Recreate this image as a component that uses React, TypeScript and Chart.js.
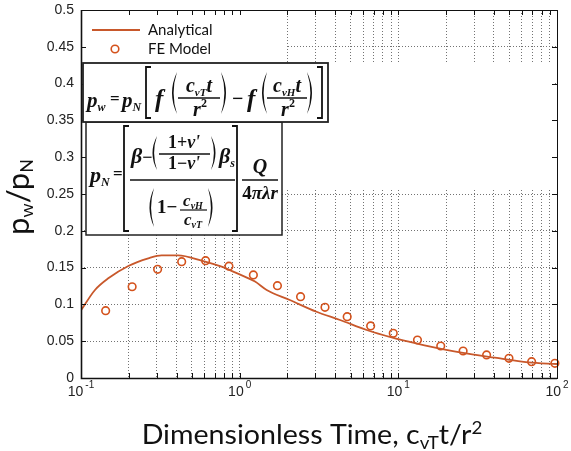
import { useEffect, useRef } from "react";
import { Chart, registerables } from "chart.js";

Chart.register(...registerables);

// Analytical solution: dimensionless time vs. pressure ratio
const analyticTime = [0.1, 0.1225, 0.1486, 0.1987, 0.2655, 0.322, 0.41, 0.576, 0.77, 0.934, 1.25, 1.48, 2.07, 3.05, 4.29, 6.31, 9.3, 11.8, 15.4, 25, 40.6, 65.9, 100];
const analyticRatio = [0.092, 0.1196, 0.1354, 0.1522, 0.1626, 0.1667, 0.1667, 0.1594, 0.1512, 0.1435, 0.131, 0.1196, 0.106, 0.09, 0.0788, 0.0652, 0.0545, 0.049, 0.0433, 0.0344, 0.0276, 0.0213, 0.019];

// Finite element results
const feTime = [0.143, 0.21, 0.304, 0.431, 0.61, 0.856, 1.22, 1.73, 2.42, 3.45, 4.76, 6.69, 9.29, 13.2, 18.5, 25.6, 36, 49.8, 69.2, 97];
const feRatio = [0.0915, 0.124, 0.1476, 0.158, 0.1594, 0.152, 0.14, 0.1254, 0.1105, 0.096, 0.0833, 0.0707, 0.0607, 0.0516, 0.0435, 0.0367, 0.0313, 0.0268, 0.0222, 0.02];

const seriesNames = ["Analytical", "FE Model"];

// Axis ticks
const decades = [0.1, 1, 10, 100];
const decadeExponents = ["-1", "0", "1", "2"];
const minorSteps = [2, 3, 4, 5, 6, 7, 8, 9];
const yMin = 0;
const yMax = 0.5;
const yStep = 0.05;

const LINE_COLOR = "#c8582b";
const MARK_COLOR = "#d4521c";
const SANS = 'Lato, "Open Sans", sans-serif';
const SERIF = '"Liberation Serif", "DejaVu Serif", serif';
const TICK_FONT = '"Liberation Sans", Arial, sans-serif';
const GRID_COLOR = "#737373";

const gridTimes: number[] = [];
decades.forEach((d, i) => {
  gridTimes.push(d);
  if (i < decades.length - 1) minorSteps.forEach((m) => gridTimes.push(+(m * d).toPrecision(3)));
});

type Run = { t: string; size: number; dy?: number; italic?: boolean; font?: string; bold?: boolean };

function runFont(r: Run) {
  const fam = r.font || SERIF;
  const it = r.italic === false ? "" : "italic ";
  const b = r.bold === false ? "" : "bold ";
  return `${it}${b}${r.size}px ${fam}`;
}

function drawRuns(ctx: CanvasRenderingContext2D, runs: Run[], x: number, y: number, align: "left" | "center" = "left") {
  let total = 0;
  for (const r of runs) {
    ctx.font = runFont(r);
    total += ctx.measureText(r.t).width;
  }
  let cx = align === "center" ? x - total / 2 : x;
  ctx.textAlign = "left";
  ctx.textBaseline = "alphabetic";
  for (const r of runs) {
    ctx.font = runFont(r);
    ctx.fillText(r.t, cx, y + (r.dy || 0));
    cx += ctx.measureText(r.t).width;
  }
  return total;
}

function hline(ctx: CanvasRenderingContext2D, x1: number, x2: number, y: number, w = 1.4) {
  ctx.beginPath();
  ctx.lineWidth = w;
  ctx.moveTo(x1, y);
  ctx.lineTo(x2, y);
  ctx.stroke();
}

// square bracket; dir 1 = "[", -1 = "]"
function bracket(ctx: CanvasRenderingContext2D, x: number, y1: number, y2: number, dir: number) {
  ctx.beginPath();
  ctx.lineWidth = 1.8;
  ctx.moveTo(x + 5 * dir, y1);
  ctx.lineTo(x, y1);
  ctx.lineTo(x, y2);
  ctx.lineTo(x + 5 * dir, y2);
  ctx.stroke();
}

// parenthesis spanning x0..x1; dir 1 = "(", -1 = ")"
function paren(ctx: CanvasRenderingContext2D, x0: number, x1: number, y1: number, y2: number, dir: number) {
  const tip = dir === 1 ? x1 : x0;
  const belly = dir === 1 ? x0 : x1;
  const ym = (y1 + y2) / 2;
  ctx.beginPath();
  ctx.moveTo(tip, y1);
  ctx.quadraticCurveTo(belly - 3 * dir, ym, tip, y2);
  ctx.quadraticCurveTo(belly + 0.2 * dir, ym, tip, y1);
  ctx.fill();
}

const frame = {
  id: "frame",
  beforeDatasetsDraw(chart: any) {
    const { ctx, chartArea: a } = chart;
    ctx.save();
    ctx.fillStyle = "#ffffff";
    // blank panel behind legend and formulas
    ctx.fillRect(a.left + 1, a.top + 1, 204, 52);
    ctx.fillRect(a.left + 1, a.top + 52, a.right - a.left - 5, 128);
    ctx.restore();
  },
  afterDraw(chart: any) {
    const { ctx, chartArea: a, scales } = chart;
    const xs = scales.x;
    const ys = scales.y;
    ctx.save();

    // axes box
    ctx.strokeStyle = "#111";
    ctx.lineWidth = 1;
    ctx.strokeRect(a.left + 0.5, a.top + 0.5, a.right - a.left, a.bottom - a.top);
    ctx.lineWidth = 1.6;
    ctx.beginPath();
    ctx.moveTo(a.left + 0.5, a.top);
    ctx.lineTo(a.left + 0.5, a.bottom + 0.5);
    ctx.lineTo(a.right, a.bottom + 0.5);
    ctx.stroke();

    // inward ticks
    ctx.lineWidth = 1;
    ctx.beginPath();
    for (const v of gridTimes) {
      const px = Math.round(xs.getPixelForValue(v)) + 0.5;
      ctx.moveTo(px, a.bottom);
      ctx.lineTo(px, a.bottom - 5);
      ctx.moveTo(px, a.top);
      ctx.lineTo(px, a.top + 5);
    }
    for (let v = yMin; v <= yMax + 1e-9; v += yStep) {
      const py = Math.round(ys.getPixelForValue(v)) + 0.5;
      ctx.moveTo(a.left, py);
      ctx.lineTo(a.left + 5, py);
      ctx.moveTo(a.right, py);
      ctx.lineTo(a.right - 5, py);
    }
    ctx.stroke();

    // decade labels
    ctx.fillStyle = "#222";
    decades.forEach((d, i) => {
      const px = xs.getPixelForValue(d);
      ctx.font = `14px ${TICK_FONT}`;
      const w10 = ctx.measureText("10").width;
      ctx.font = `10px ${TICK_FONT}`;
      const we = ctx.measureText(decadeExponents[i]).width;
      const start = px - (w10 + 2 + we) / 2;
      ctx.textAlign = "left";
      ctx.textBaseline = "alphabetic";
      ctx.font = `14px ${TICK_FONT}`;
      ctx.fillText("10", start, a.bottom + 18);
      ctx.font = `10px ${TICK_FONT}`;
      ctx.fillText(decadeExponents[i], start + w10 + 2, a.bottom + 10);
    });

    // axis titles
    ctx.fillStyle = "#111";
    ctx.save();
    ctx.translate(312, a.bottom + 66);
    ctx.scale(1.1, 1);
    drawRuns(
      ctx,
      [
        { t: "Dimensionless Time, c", size: 26, font: SANS, italic: false, bold: false },
        { t: "vT", size: 17, dy: 5, font: SANS, italic: false, bold: false },
        { t: "t/r", size: 26, font: SANS, italic: false, bold: false },
        { t: "2", size: 17, dy: -10, font: SANS, italic: false, bold: false },
      ],
      0,
      0,
      "center"
    );
    ctx.restore();
    ctx.save();
    ctx.translate(29, (a.top + a.bottom) / 2 + 3);
    ctx.rotate(-Math.PI / 2);
    drawRuns(
      ctx,
      [
        { t: "p", size: 31, font: SANS, italic: false, bold: false },
        { t: "w", size: 18, dy: 4, font: SANS, italic: false, bold: false },
        { t: "/p", size: 31, font: SANS, italic: false, bold: false },
        { t: "N", size: 18, dy: 4, font: SANS, italic: false, bold: false },
      ],
      0,
      0,
      "center"
    );
    ctx.restore();

    // legend
    const lx = a.left + 11;
    ctx.strokeStyle = LINE_COLOR;
    hline(ctx, lx, lx + 48, a.top + 20, 2);
    ctx.strokeStyle = MARK_COLOR;
    ctx.lineWidth = 1.6;
    ctx.beginPath();
    ctx.arc(lx + 23, a.top + 39, 3.8, 0, Math.PI * 2);
    ctx.stroke();
    ctx.fillStyle = "#111";
    ctx.font = `15px ${SANS}`;
    ctx.textAlign = "left";
    ctx.textBaseline = "middle";
    ctx.fillText(seriesNames[0], lx + 56, a.top + 20);
    ctx.fillText(seriesNames[1], lx + 56, a.top + 39);

    // formula for p_N
    const ox2 = a.left + 5;
    const oy2 = a.top + 112;
    ctx.fillStyle = "#fff";
    ctx.fillRect(ox2, oy2, 196, 113);
    ctx.strokeStyle = "#222";
    ctx.lineWidth = 1.5;
    ctx.strokeRect(ox2, oy2, 196, 113);
    ctx.fillStyle = "#111";
    ctx.strokeStyle = "#111";
    drawRuns(ctx, [{ t: "p", size: 22 }, { t: "N", size: 12, dy: 4 }], ox2 + 4, oy2 + 60);
    drawRuns(ctx, [{ t: "=", size: 17, italic: false }], ox2 + 27, oy2 + 57);
    bracket(ctx, ox2 + 38, oy2 + 4, oy2 + 109, 1);
    drawRuns(ctx, [{ t: "β", size: 22 }, { t: "−", size: 18, italic: false }], ox2 + 45, oy2 + 41);
    paren(ctx, ox2 + 65, ox2 + 71, oy2 + 14, oy2 + 48, 1);
    drawRuns(ctx, [{ t: "1+", size: 18, italic: false }, { t: "ν'", size: 18 }], ox2 + 98, oy2 + 26, "center");
    hline(ctx, ox2 + 73, ox2 + 124, oy2 + 32);
    drawRuns(ctx, [{ t: "1−", size: 18, italic: false }, { t: "ν'", size: 18 }], ox2 + 98, oy2 + 47, "center");
    paren(ctx, ox2 + 125, ox2 + 131, oy2 + 14, oy2 + 48, -1);
    drawRuns(ctx, [{ t: "β", size: 22 }, { t: "s", size: 12, dy: 4 }], ox2 + 133, oy2 + 41);
    hline(ctx, ox2 + 44, ox2 + 149, oy2 + 58, 1.6);
    paren(ctx, ox2 + 62, ox2 + 68, oy2 + 66, oy2 + 105, 1);
    drawRuns(ctx, [{ t: "1−", size: 19, italic: false }], ox2 + 71, oy2 + 91);
    drawRuns(ctx, [{ t: "c", size: 17 }, { t: "vH", size: 10, dy: 3 }], ox2 + 107, oy2 + 84, "center");
    hline(ctx, ox2 + 94, ox2 + 121, oy2 + 88, 1.2);
    drawRuns(ctx, [{ t: "c", size: 17 }, { t: "vT", size: 10, dy: 3 }], ox2 + 107, oy2 + 103, "center");
    paren(ctx, ox2 + 122, ox2 + 128, oy2 + 66, oy2 + 105, -1);
    bracket(ctx, ox2 + 151, oy2 + 4, oy2 + 109, -1);
    drawRuns(ctx, [{ t: "Q", size: 20 }], ox2 + 174, oy2 + 51, "center");
    hline(ctx, ox2 + 156, ox2 + 192, oy2 + 58, 1.6);
    drawRuns(ctx, [{ t: "4", size: 19, italic: false }, { t: "πλr", size: 19 }], ox2 + 174, oy2 + 77, "center");

    // formula for p_w
    const ox = a.left + 2;
    const oy = a.top + 53;
    ctx.fillStyle = "#fff";
    ctx.fillRect(ox, oy, 245, 59);
    ctx.strokeStyle = "#222";
    ctx.lineWidth = 1.8;
    ctx.strokeRect(ox, oy, 245, 59);
    ctx.fillStyle = "#111";
    ctx.strokeStyle = "#111";
    drawRuns(ctx, [{ t: "p", size: 21 }, { t: "w", size: 12, dy: 4 }], ox + 4, oy + 44);
    drawRuns(ctx, [{ t: "=", size: 17, italic: false }], ox + 27, oy + 41);
    drawRuns(ctx, [{ t: "p", size: 21 }, { t: "N", size: 12, dy: 4 }], ox + 39, oy + 44);
    bracket(ctx, ox + 63, oy + 4, oy + 55, 1);
    drawRuns(ctx, [{ t: "f", size: 25 }], ox + 72, oy + 44);
    paren(ctx, ox + 87, ox + 94, oy + 9, oy + 51, 1);
    drawRuns(ctx, [{ t: "c", size: 20 }, { t: "vT", size: 11, dy: 4 }, { t: "t", size: 20 }], ox + 116, oy + 29, "center");
    hline(ctx, ox + 95, ox + 137, oy + 35);
    drawRuns(ctx, [{ t: "r", size: 20 }, { t: "2", size: 12, dy: -9, italic: false }], ox + 117, oy + 53, "center");
    paren(ctx, ox + 138, ox + 145, oy + 9, oy + 51, -1);
    drawRuns(ctx, [{ t: "−", size: 20, italic: false }], ox + 149, oy + 42);
    drawRuns(ctx, [{ t: "f", size: 25 }], ox + 164, oy + 44);
    paren(ctx, ox + 177, ox + 184, oy + 9, oy + 51, 1);
    drawRuns(ctx, [{ t: "c", size: 20 }, { t: "vH", size: 11, dy: 4 }, { t: "t", size: 20 }], ox + 204, oy + 29, "center");
    hline(ctx, ox + 184, ox + 224, oy + 35);
    drawRuns(ctx, [{ t: "r", size: 20 }, { t: "2", size: 12, dy: -9, italic: false }], ox + 205, oy + 53, "center");
    paren(ctx, ox + 224, ox + 231, oy + 9, oy + 51, -1);
    bracket(ctx, ox + 239, oy + 4, oy + 55, -1);

    ctx.restore();
  },
};

export default function App() {
  const ref = useRef<HTMLCanvasElement | null>(null);

  useEffect(() => {
    if (!ref.current) return;
    const chart = new Chart(ref.current, {
      type: "line",
      data: {
        datasets: [
          {
            label: seriesNames[0],
            data: analyticTime.map((t, i) => ({ x: t, y: analyticRatio[i] })),
            borderColor: LINE_COLOR,
            borderWidth: 1.8,
            pointRadius: 0,
            cubicInterpolationMode: "monotone",
            fill: false,
          },
          {
            label: seriesNames[1],
            data: feTime.map((t, i) => ({ x: t, y: feRatio[i] })),
            showLine: false,
            pointStyle: "circle",
            pointRadius: 3.8,
            pointBorderWidth: 1.6,
            pointBorderColor: MARK_COLOR,
            pointBackgroundColor: "rgba(255,255,255,0)",
            borderColor: MARK_COLOR,
            clip: false,
          } as any,
        ],
      },
      options: {
        animation: false,
        responsive: false,
        devicePixelRatio: 1,
        layout: { padding: { left: 0, top: 10, right: 14, bottom: 0 } },
        plugins: { legend: { display: false }, tooltip: { enabled: false } },
        scales: {
          x: {
            type: "logarithmic",
            min: decades[0],
            max: decades[decades.length - 1],
            afterBuildTicks: (s: any) => {
              s.ticks = gridTimes.map((v) => ({ value: v }));
            },
            afterFit: (s: any) => {
              s.height = 73;
              s.paddingLeft = 0;
              s.paddingRight = 0;
            },
            ticks: { display: false, autoSkip: false },
            grid: { color: GRID_COLOR, lineWidth: 1, drawTicks: false },
            border: { display: false, dash: [1, 2] },
          },
          y: {
            min: yMin,
            max: yMax,
            afterFit: (s: any) => {
              s.width = 81;
              s.paddingTop = 0;
              s.paddingBottom = 0;
            },
            ticks: {
              stepSize: yStep,
              padding: 7,
              color: "#222",
              font: { family: TICK_FONT, size: 14 },
              callback: (v: any) => String(+Number(v).toFixed(2)),
            },
            grid: { color: GRID_COLOR, lineWidth: 1, drawTicks: false },
            border: { display: false, dash: [1, 2] },
          },
        },
      },
      plugins: [frame],
    });
    return () => chart.destroy();
  }, []);

  return (
    <div style={{ position: "absolute", left: 0, top: 0, width: 571, height: 451, background: "#fff" }}>
      <canvas ref={ref} width={571} height={451} style={{ display: "block" }} />
    </div>
  );
}
